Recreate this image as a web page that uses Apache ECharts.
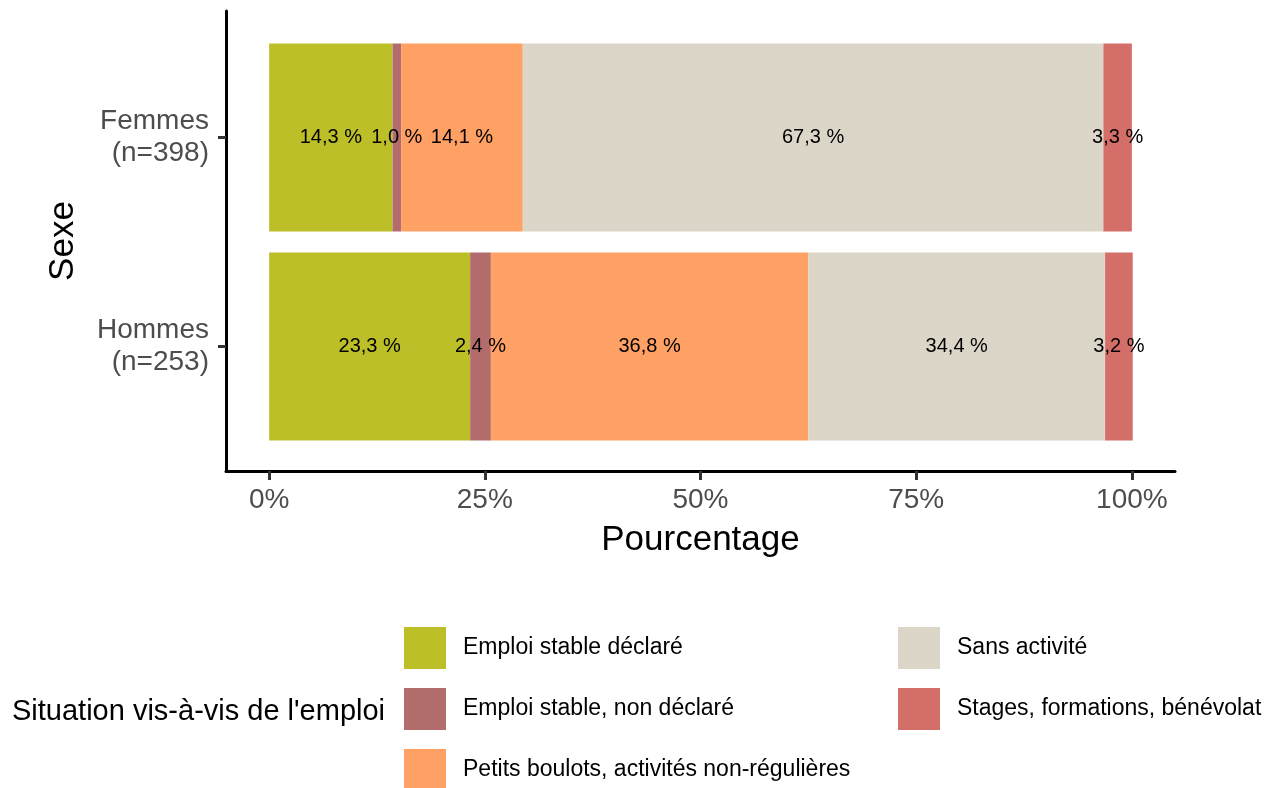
<!DOCTYPE html>
<html>
<head>
<meta charset="utf-8">
<script src="https://cdn.jsdelivr.net/npm/echarts@6/dist/echarts.min.js"></script>
<style>
  html, body { margin: 0; padding: 0; background: #fff; }
  #chart { width: 1273px; height: 788px; }
</style>
</head>
<body>
<div id="chart"></div>
<script>
// categories (bottom to top)
const groupes = ['Hommes\n(n=253)', 'Femmes\n(n=398)'];
const situations = [
  'Emploi stable déclaré',
  'Emploi stable, non déclaré',
  'Petits boulots, activités non-régulières',
  'Sans activité',
  'Stages, formations, bénévolat'
];
const couleurs = ['#bdbf29', '#b26c6c', '#ffa064', '#dcd6c9', '#d36e69'];
// percentages per situation: [Hommes, Femmes]
const emploiDeclare = [23.3, 14.3];
const emploiNonDeclare = [2.4, 1.0];
const petitsBoulots = [36.8, 14.1];
const sansActivite = [34.4, 67.3];
const stages = [3.2, 3.3];
const ticks = [0, 25, 50, 75, 100];

const valeurs = [emploiDeclare, emploiNonDeclare, petitsBoulots, sansActivite, stages];
const font = 'Liberation Sans, Arial, sans-serif';

let series = situations.map(function (nom, i) {
  return {
    name: nom,
    type: 'bar',
    stack: 'total',
    xAxisIndex: 1,
    yAxisIndex: 1,
    barWidth: 188,
    data: valeurs[i],
    itemStyle: { color: couleurs[i] },
    label: {
      show: true,
      position: 'inside',
      color: '#000',
      fontSize: 20,
      fontFamily: font,
      formatter: function (p) {
        return p.value.toFixed(1).replace('.', ',') + ' %';
      },
    },
  };
});

// légende sur deux colonnes (ordre par colonne)
let legendes = situations.map(function (nom, i) {
  return {
    data: [nom],
    left: i < 3 ? 404 : 898,
    top: 627 + (i % 3) * 61,
    padding: 0,
    itemWidth: 42,
    itemHeight: 42,
    icon: 'rect',
    selectedMode: false,
    textStyle: { color: '#000', fontSize: 23, fontFamily: font, padding: [0, 0, 0, 12] },
  };
});

let option = {
  animation: false,
  backgroundColor: '#fff',
  grid: [
    // cadre (axes)
    { left: 226, right: 98, top: 11, bottom: 317 },
    // barres
    { left: 226, right: 98, top: 33, bottom: 337 },
  ],
  xAxis: [
    {
      gridIndex: 0,
      type: 'value',
      min: -5,
      max: 105,
      axisLine: { show: true, onZero: false, lineStyle: { color: '#000', width: 3 } },
      axisTick: {
        show: true,
        length: 9,
        customValues: ticks,
        lineStyle: { color: '#333', width: 3 },
      },
      axisLabel: {
        customValues: ticks,
        formatter: '{value}%',
        color: '#4d4d4d',
        fontSize: 28,
        fontFamily: font,
        margin: 15,
      },
      splitLine: { show: false },
      name: 'Pourcentage',
      nameLocation: 'middle',
      nameGap: 52,
      nameTextStyle: { color: '#000', fontSize: 35, fontFamily: font },
    },
    {
      gridIndex: 1,
      type: 'value',
      min: -5,
      max: 105,
      show: false,
    },
  ],
  yAxis: [
    {
      gridIndex: 0,
      type: 'value',
      min: 0,
      max: 1,
      axisLine: { show: true, onZero: false, lineStyle: { color: '#000', width: 3 } },
      axisTick: { show: false },
      axisLabel: { show: false },
      splitLine: { show: false },
      name: 'Sexe',
      nameLocation: 'middle',
      nameRotate: 90,
      nameGap: 145,
      nameTextStyle: { color: '#000', fontSize: 35, fontFamily: font },
    },
    {
      gridIndex: 1,
      type: 'category',
      data: groupes,
      axisLine: { show: false, onZero: false },
      axisTick: {
        show: true,
        alignWithLabel: true,
        length: 8,
        lineStyle: { color: '#333', width: 3 },
      },
      axisLabel: {
        color: '#4d4d4d',
        fontSize: 28,
        lineHeight: 32,
        padding: [6, 0, 0, 0],
        fontFamily: font,
        align: 'right',
        margin: 17,
      },
    },
  ],
  title: {
    text: "Situation vis-à-vis de l'emploi",
    left: 12,
    top: 697,
    padding: 0,
    textStyle: { color: '#000', fontSize: 29, fontWeight: 'normal', fontFamily: font },
  },
  legend: legendes,
  series: series,
};

let myChart = echarts.init(document.getElementById('chart'));
myChart.setOption(option);
window.onresize = function () {
  myChart.resize();
};
</script>
</body>
</html>
